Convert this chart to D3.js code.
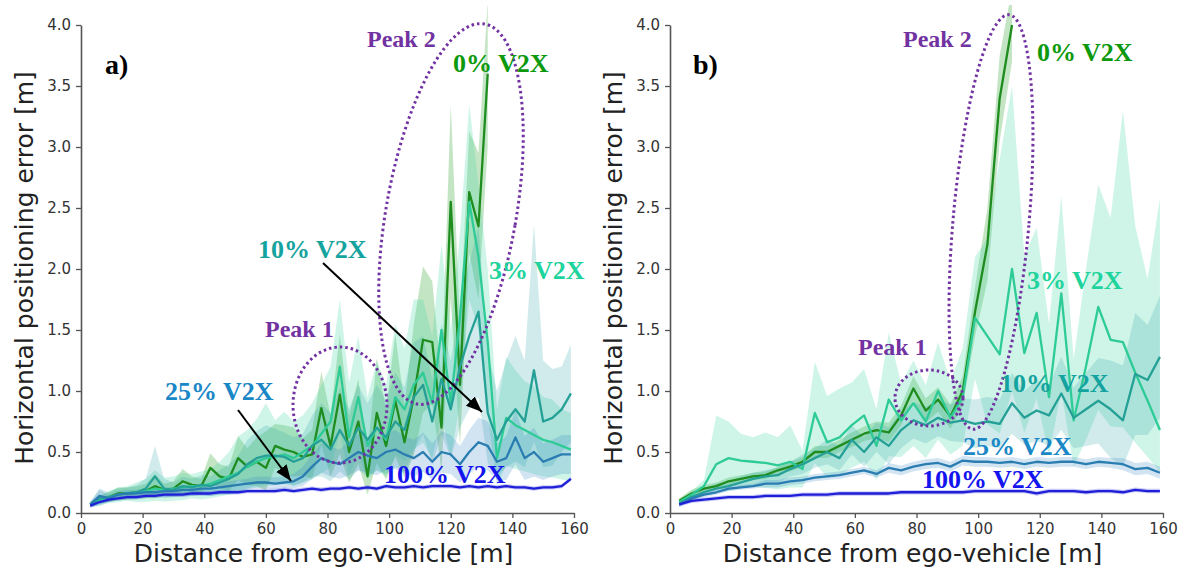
<!DOCTYPE html>
<html><head><meta charset="utf-8">
<script src="https://cdn.jsdelivr.net/npm/d3@7"></script>
<style>body{margin:0;background:#fff}svg{display:block}</style>
</head><body>
<script>
// ---------- DATA ----------
const xTicks = [0,20,40,60,80,100,120,140,160];
const yTicks = [0,0.5,1,1.5,2,2.5,3,3.5,4];

// panel a distances (m)
const distA = [3,6,9,12,15,18,21,24,27,30,33,36,39,42,45,48,51,54,57,60,63,66,69,72,75,78,81,84,87,90,93,96,99,102,105,108,111,114,117,120,123,126,129,132,135,138,141,144,147,150,153,156,159];
const a0   = [0.07,0.11,0.13,0.16,0.16,0.17,0.18,0.22,0.19,0.20,0.26,0.23,0.22,0.37,0.30,0.28,0.45,0.38,0.42,0.37,0.55,0.52,0.50,0.46,0.48,0.86,0.55,0.97,0.50,0.75,0.30,0.82,0.55,0.92,0.58,0.95,1.42,1.40,0.70,2.55,1.05,2.63,2.35,3.60];
const a0s  = [0.02,0.03,0.04,0.05,0.05,0.05,0.06,0.10,0.05,0.06,0.10,0.07,0.06,0.12,0.10,0.10,0.18,0.15,0.20,0.30,0.18,0.20,0.20,0.15,0.20,0.30,0.25,0.50,0.30,0.35,0.20,0.45,0.30,0.55,0.30,0.60,0.60,0.50,0.40,0.80,0.50,0.50,0.60,0.60];
const a3   = [0.07,0.10,0.13,0.15,0.16,0.17,0.18,0.20,0.19,0.20,0.21,0.22,0.22,0.24,0.27,0.30,0.33,0.38,0.42,0.45,0.46,0.48,0.45,0.50,0.55,0.65,0.75,1.20,0.62,0.95,0.55,0.70,0.60,0.95,0.85,1.05,1.15,0.90,1.50,0.90,1.60,2.55,2.10,1.40,0.45,0.78,0.72,0.68,0.64,0.60,0.58,0.55,0.52];
const a3s  = [0.02,0.04,0.05,0.06,0.06,0.08,0.10,0.15,0.10,0.10,0.12,0.10,0.12,0.12,0.15,0.20,0.30,0.30,0.35,0.45,0.30,0.35,0.30,0.30,0.35,0.40,0.45,0.55,0.45,0.50,0.40,0.55,0.45,0.60,0.50,0.70,0.60,0.55,0.70,0.60,0.70,0.80,0.60,0.60,0.40,0.50,0.45,0.40,0.40,0.35,0.35,0.30,0.30];
const a10  = [0.07,0.12,0.13,0.15,0.16,0.17,0.20,0.30,0.20,0.19,0.22,0.21,0.23,0.22,0.25,0.28,0.32,0.40,0.45,0.47,0.47,0.46,0.42,0.45,0.55,0.60,0.52,0.68,0.55,0.70,0.60,0.70,0.62,0.75,0.68,0.95,1.05,0.75,1.10,0.85,1.20,1.45,1.65,0.82,0.60,0.75,0.85,0.75,1.17,0.75,0.78,0.85,0.98];
const a10s = [0.02,0.08,0.04,0.05,0.05,0.06,0.08,0.25,0.08,0.06,0.08,0.07,0.08,0.08,0.10,0.12,0.15,0.20,0.22,0.25,0.22,0.20,0.20,0.20,0.25,0.30,0.30,0.35,0.30,0.35,0.30,0.35,0.30,0.40,0.35,0.45,0.40,0.35,0.45,0.40,0.50,0.60,0.70,0.50,0.40,0.50,0.60,0.50,1.20,0.50,0.40,0.35,0.40];
const a25  = [0.07,0.14,0.12,0.15,0.16,0.16,0.17,0.17,0.18,0.18,0.19,0.19,0.20,0.20,0.21,0.22,0.23,0.24,0.25,0.25,0.24,0.25,0.26,0.30,0.38,0.45,0.42,0.40,0.45,0.50,0.47,0.45,0.50,0.52,0.48,0.45,0.50,0.42,0.50,0.48,0.40,0.50,0.58,0.55,0.42,0.45,0.62,0.45,0.50,0.42,0.45,0.48,0.48];
const a25s = [0.02,0.05,0.03,0.03,0.03,0.03,0.03,0.03,0.03,0.03,0.03,0.03,0.03,0.03,0.03,0.04,0.04,0.04,0.05,0.05,0.05,0.05,0.06,0.08,0.10,0.12,0.12,0.12,0.14,0.15,0.14,0.14,0.15,0.16,0.15,0.15,0.16,0.15,0.17,0.16,0.15,0.18,0.20,0.20,0.15,0.18,0.22,0.18,0.20,0.15,0.15,0.16,0.16];
const a100 = [0.06,0.09,0.11,0.12,0.13,0.13,0.14,0.14,0.15,0.15,0.15,0.16,0.16,0.16,0.17,0.17,0.17,0.18,0.18,0.18,0.18,0.19,0.18,0.19,0.20,0.19,0.20,0.20,0.21,0.20,0.21,0.20,0.22,0.21,0.21,0.22,0.21,0.22,0.22,0.22,0.21,0.22,0.21,0.22,0.21,0.22,0.21,0.21,0.20,0.21,0.21,0.22,0.28];
const a100s = 0.018;

// panel b distances (m)
const distB = [3,7,11,15,19,23,27,31,35,39,43,47,51,55,59,63,67,71,75,79,83,87,91,95,99,103,107,111,115,119,123,127,131,135,139,143,147,151,155,159];
const b0   = [0.10,0.16,0.20,0.22,0.26,0.28,0.30,0.31,0.35,0.38,0.42,0.50,0.50,0.55,0.60,0.65,0.68,0.66,0.80,1.02,0.84,0.93,0.79,1.00,1.65,2.20,3.40,4.00];
const b0s  = [0.02,0.03,0.03,0.03,0.03,0.03,0.03,0.03,0.03,0.04,0.04,0.05,0.05,0.05,0.06,0.06,0.07,0.08,0.08,0.10,0.10,0.10,0.10,0.12,0.20,0.30,0.35,0.30];
const b3   = [0.09,0.15,0.22,0.40,0.45,0.43,0.42,0.41,0.39,0.42,0.36,0.82,0.58,0.62,0.72,0.80,0.55,0.93,0.76,0.90,0.75,1.00,0.78,0.95,1.60,1.45,1.30,2.00,1.31,1.64,0.95,1.80,0.76,1.20,1.69,1.42,1.40,1.15,0.92,0.68];
const b3s  = [0.02,0.03,0.05,0.40,0.30,0.22,0.20,0.25,0.23,0.30,0.15,0.42,0.38,0.40,0.35,0.38,0.30,0.55,0.30,0.35,0.30,0.40,0.30,0.40,0.50,0.80,1.60,1.50,0.80,0.70,0.60,0.80,0.50,0.80,1.00,1.00,1.90,1.20,1.00,1.90];
const b10  = [0.08,0.13,0.17,0.20,0.22,0.25,0.28,0.30,0.31,0.36,0.40,0.45,0.50,0.45,0.60,0.50,0.62,0.55,0.68,0.76,0.72,0.78,0.74,0.76,0.73,0.75,0.73,0.90,0.78,0.84,0.80,0.98,0.78,0.85,0.92,0.85,0.76,1.14,1.09,1.28];
const b10s = [0.02,0.03,0.03,0.04,0.04,0.05,0.05,0.05,0.06,0.06,0.08,0.08,0.10,0.10,0.12,0.12,0.12,0.15,0.15,0.15,0.15,0.15,0.15,0.18,0.20,0.20,0.20,0.25,0.22,0.25,0.25,0.30,0.25,0.30,0.35,0.40,0.45,0.50,0.45,0.50];
const b25  = [0.07,0.12,0.15,0.17,0.20,0.21,0.22,0.24,0.24,0.26,0.27,0.29,0.30,0.31,0.33,0.35,0.32,0.37,0.35,0.38,0.40,0.41,0.38,0.43,0.42,0.42,0.41,0.42,0.40,0.42,0.41,0.42,0.42,0.40,0.42,0.41,0.40,0.36,0.37,0.33];
const b25s = [0.02,0.02,0.02,0.02,0.02,0.02,0.02,0.03,0.03,0.03,0.03,0.03,0.03,0.03,0.03,0.03,0.03,0.04,0.04,0.04,0.04,0.04,0.04,0.04,0.04,0.04,0.04,0.04,0.04,0.04,0.04,0.04,0.04,0.04,0.04,0.04,0.05,0.05,0.05,0.05];
const b100 = [0.07,0.10,0.11,0.12,0.13,0.13,0.13,0.14,0.14,0.14,0.15,0.15,0.15,0.16,0.16,0.16,0.16,0.16,0.17,0.17,0.17,0.17,0.17,0.17,0.18,0.18,0.18,0.18,0.18,0.16,0.18,0.18,0.18,0.17,0.18,0.18,0.17,0.19,0.18,0.18];
const b100s = 0.018;

const seriesNames = ["0% V2X","3% V2X","10% V2X","25% V2X","100% V2X"];
const lineColors  = ["#1e8c1e","#2ecb97","#25a096","#2a7db1","#1f1fd8"];
const bandColors  = ["rgba(60,170,60,0.30)","rgba(70,215,165,0.26)","rgba(45,165,170,0.22)","rgba(50,130,195,0.22)","rgba(40,40,225,0.25)"];
const labelColors = ["#0d990d","#1fd49c","#15a3a0","#1a87c6","#1414ee"];
const purple = "#7232a2";

// ---------- DRAW ----------
const W = 1183, H = 569;
const svg = d3.select("body").append("svg").attr("width", W).attr("height", H);
const defs = svg.append("defs");
defs.append("marker").attr("id","arr").attr("viewBox","0 0 10 10").attr("refX",10).attr("refY",5)
  .attr("markerWidth",8).attr("markerHeight",8).attr("markerUnits","strokeWidth").attr("orient","auto")
  .append("path").attr("d","M0,1 L10,5 L0,9 Z").attr("fill","#000");

const Y0 = 513, Y1 = 25;

function panel(opts){
  const x = d3.scaleLinear().domain([0,160]).range([opts.x0, opts.x1]);
  const y = d3.scaleLinear().domain([0,4]).range([Y0, Y1]);
  const g = svg.append("g");
  const cid = "clip" + opts.id;
  defs.append("clipPath").attr("id", cid).append("rect")
    .attr("x", opts.x0).attr("y", 5).attr("width", opts.x1 - opts.x0 + 4).attr("height", Y0 - 5);
  const plot = g.append("g").attr("clip-path", `url(#${cid})`);

  const series = opts.series.map((s, k) => {
    const pts = s.v.map((v, i) => {
      const sp = Array.isArray(s.s) ? s.s[i] : s.s;
      return {d: opts.dist[i], m: v, hi: v + sp, lo: v - Math.min(sp, v * 0.5)};
    });
    return {k, pts};
  });
  const area = d3.area().x(p => x(p.d)).y0(p => y(p.lo)).y1(p => y(p.hi));
  const line = d3.line().x(p => x(p.d)).y(p => y(p.m));
  series.forEach(s => plot.append("path").attr("d", area(s.pts)).attr("fill", bandColors[s.k]).attr("stroke","none"));
  series.forEach(s => plot.append("path").attr("d", line(s.pts)).attr("fill","none")
      .attr("stroke", lineColors[s.k]).attr("stroke-width", 2.3).attr("stroke-linejoin","round"));

  // axes
  const ax = g.append("g").attr("transform", `translate(0,${Y0})`)
    .call(d3.axisBottom(x).tickValues(xTicks).tickFormat(d3.format("d")).tickSize(5).tickSizeOuter(0).tickPadding(5));
  const ay = g.append("g").attr("transform", `translate(${opts.x0},0)`)
    .call(d3.axisLeft(y).tickValues(yTicks).tickFormat(d3.format(".1f")).tickSize(5).tickSizeOuter(0).tickPadding(5));
  [ax, ay].forEach(a => {
    a.selectAll("text").attr("font-family","DejaVu Sans").attr("font-size",15).attr("fill","#333");
    a.selectAll("line").attr("stroke","#555").attr("stroke-width",1.3);
    a.select(".domain").attr("stroke","#555").attr("stroke-width",1.6);
  });

  g.append("text").attr("x", (opts.x0 + opts.x1)/2 - 4).attr("y", 562).attr("text-anchor","middle")
    .attr("font-family","DejaVu Sans").attr("font-size",25).attr("fill","#222")
    .text("Distance from ego-vehicle [m]");
  g.append("text").attr("transform", `translate(${opts.ylx},268) rotate(-90)`).attr("text-anchor","middle")
    .attr("font-family","DejaVu Sans").attr("font-size",25).attr("fill","#222")
    .text("Horizontal positioning error [m]");

  // ellipses
  opts.ellipses.forEach(e => g.append("ellipse").attr("cx", e[0]).attr("cy", e[1]).attr("rx", e[2]).attr("ry", e[3])
    .attr("transform", `rotate(${e[4]},${e[0]},${e[1]})`).attr("fill","none").attr("stroke", purple)
    .attr("stroke-width", 3).attr("stroke-dasharray","2.5 3"));

  // arrows
  (opts.arrows || []).forEach(a => g.append("line").attr("x1",a[0]).attr("y1",a[1]).attr("x2",a[2]).attr("y2",a[3])
    .attr("stroke","#000").attr("stroke-width",2).attr("marker-end","url(#arr)"));

  // labels
  opts.labels.forEach(l => g.append("text").attr("x", l.x).attr("y", l.y)
    .attr("font-family","Liberation Serif").attr("font-weight","bold").attr("font-size", l.fs || 26)
    .attr("fill", l.c).text(l.t));
}

panel({
  id: "a", x0: 81, x1: 574, dist: distA, ylx: 33,
  series: [{v:a0,s:a0s},{v:a3,s:a3s},{v:a10,s:a10s},{v:a25,s:a25s},{v:a100,s:a100s}],
  ellipses: [[451,214,65,193,10],[340,405,47,58,0]],
  arrows: [[323,263,482,412],[238,410,291,481]],
  labels: [
    {x:105,y:74,t:"a)",c:"#000",fs:28},
    {x:367,y:47,t:"Peak 2",c:purple,fs:24},
    {x:453,y:72,t:seriesNames[0],c:labelColors[0]},
    {x:258,y:258,t:seriesNames[2],c:labelColors[2]},
    {x:489,y:279,t:seriesNames[1],c:labelColors[1]},
    {x:265,y:337,t:"Peak 1",c:purple,fs:24},
    {x:165,y:400,t:seriesNames[3],c:labelColors[3]},
    {x:384,y:483,t:seriesNames[4],c:labelColors[4]}
  ]
});
panel({
  id: "b", x0: 670, x1: 1163, dist: distB, ylx: 622,
  series: [{v:b0,s:b0s},{v:b3,s:b3s},{v:b10,s:b10s},{v:b25,s:b25s},{v:b100,s:b100s}],
  ellipses: [[991,222,38,208,5],[929,398,34,28,0]],
  labels: [
    {x:693,y:74,t:"b)",c:"#000",fs:28},
    {x:903,y:47,t:"Peak 2",c:purple,fs:24},
    {x:1037,y:61,t:seriesNames[0],c:labelColors[0]},
    {x:1027,y:289,t:seriesNames[1],c:labelColors[1]},
    {x:858,y:355,t:"Peak 1",c:purple,fs:24},
    {x:1000,y:392,t:seriesNames[2],c:labelColors[2]},
    {x:963,y:455,t:seriesNames[3],c:labelColors[3]},
    {x:922,y:488,t:seriesNames[4],c:labelColors[4]}
  ]
});
</script>
</body></html>
